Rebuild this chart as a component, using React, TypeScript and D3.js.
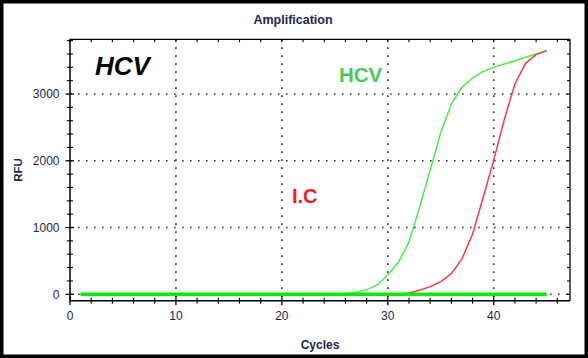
import React from "react";
import * as d3 from "d3";

const cycles = [1,2,3,4,5,6,7,8,9,10,11,12,13,14,15,16,17,18,19,20,21,22,23,24,25,26,27,28,29,30,31,32,33,34,35,36,37,38,39,40,41,42,43,44,45];
const hcvValues = [0,0,0,0,0,0,0,0,0,0,0,0,0,0,0,0,0,0,0,0,0,0,0,0,3,10,30,70,140,290,480,780,1300,1860,2420,2850,3100,3240,3340,3400,3450,3500,3550,3600,3650];
const icValues = [0,0,0,0,0,0,0,0,0,0,0,0,0,0,0,0,0,0,0,0,0,0,0,0,0,0,0,0,0,0,5,20,60,115,190,310,530,900,1450,2010,2620,3150,3460,3590,3650];
const negValues = [0,0,0,0,0,0,0,0,0,0,0,0,0,0,0,0,0,0,0,0,0,0,0,0,0,0,0,0,0,0,0,0,0,0,0,0,0,0,0,0,0,0,0,0,0];
const xMajorTicks = [0, 10, 20, 30, 40];
const xMinorTicks = [2,4,6,8,12,14,16,18,22,24,26,28,32,34,36,38,42,44,46];
const yMajorTicks = [0, 1000, 2000, 3000];
const yMinorTicks = [200,400,600,800,1200,1400,1600,1800,2200,2400,2600,2800,3200,3400,3600,3800];

const W = 588, H = 358;
const left = 70, right = 570, top = 39.3, bottom = 300.7;
const font = "'Liberation Sans', Arial, sans-serif";
const labelColor = "#1d2656";

export default function App() {
  const x = d3.scaleLinear().domain([0, 47.2]).range([left, right]);
  const y = d3.scaleLinear().domain([-96, 3820]).range([bottom, top]);
  const line = (vals: number[]) =>
    d3.line<number>().x((_, i) => x(cycles[i])).y((v) => y(v))(vals) || "";

  return (
    <svg width={W} height={H} style={{ position: "absolute", left: 0, top: 0, background: "#fff" }} fontFamily={font}>
      <rect x={0} y={0} width={W} height={H} fill="#fff" />
      {/* grid */}
      {xMajorTicks.filter((t) => t > 0).map((t) => (
        <line key={"gx" + t} x1={x(t)} x2={x(t)} y1={top} y2={bottom} stroke="#333" strokeWidth={1.6} strokeDasharray="1.6,6.4" />
      ))}
      {yMajorTicks.map((t) => (
        <line key={"gy" + t} x1={left} x2={right} y1={y(t)} y2={y(t)} stroke="#333" strokeWidth={1.6} strokeDasharray="1.6,6.4" />
      ))}
      {/* frame */}
      <line x1={left} x2={right} y1={top} y2={top} stroke="#000" strokeWidth={1.3} />
      <line x1={right} x2={right} y1={top} y2={bottom} stroke="#000" strokeWidth={1.3} />
      <line x1={left} x2={left} y1={top} y2={bottom + 1.5} stroke="#000" strokeWidth={1.5} />
      <line x1={left} x2={right} y1={bottom} y2={bottom} stroke="#000" strokeWidth={1.5} />
      {/* bottom ticks */}
      {xMajorTicks.map((t) => (
        <line key={"bx" + t} x1={x(t)} x2={x(t)} y1={bottom - 4.5} y2={bottom + 4.5} stroke="#000" strokeWidth={1.3} />
      ))}
      {xMinorTicks.map((t) => (
        <line key={"bmx" + t} x1={x(t)} x2={x(t)} y1={bottom - 3} y2={bottom + 3} stroke="#000" strokeWidth={1.1} />
      ))}
      {/* top ticks */}
      {xMajorTicks.concat(xMinorTicks).map((t) => (
        <line key={"tx" + t} x1={x(t)} x2={x(t)} y1={top} y2={top + 3} stroke="#000" strokeWidth={1.1} />
      ))}
      {/* left ticks */}
      {yMajorTicks.map((t) => (
        <line key={"ly" + t} x1={left - 4.5} x2={left + 4} y1={y(t)} y2={y(t)} stroke="#000" strokeWidth={1.3} />
      ))}
      {yMinorTicks.map((t) => (
        <line key={"lmy" + t} x1={left - 3} x2={left + 3} y1={y(t)} y2={y(t)} stroke="#000" strokeWidth={1.1} />
      ))}
      {/* right ticks */}
      {yMajorTicks.concat(yMinorTicks).map((t) => (
        <line key={"ry" + t} x1={right - 3} x2={right} y1={y(t)} y2={y(t)} stroke="#000" strokeWidth={1.1} />
      ))}
      {/* tick labels */}
      {xMajorTicks.map((t) => (
        <text key={"xl" + t} x={x(t)} y={319.5} textAnchor="middle" fontSize={12} fill={labelColor}>{t}</text>
      ))}
      {yMajorTicks.map((t) => (
        <text key={"yl" + t} x={59.5} y={y(t) + 4.3} textAnchor="end" fontSize={12} fill={labelColor}>{t}</text>
      ))}
      {/* series */}
      <path d={line(hcvValues)} fill="none" stroke="#44f044" strokeWidth={1.5} />
      <path d={line(icValues)} fill="none" stroke="#ff3b3b" strokeWidth={1.5} />
      <path d={line(negValues)} fill="none" stroke="#00ee00" strokeWidth={3.5} />
      {/* titles */}
      <text x={293} y={24} textAnchor="middle" fontSize={12.5} fontWeight="bold" fill={labelColor}>Amplification</text>
      <text x={(left + right) / 2} y={348.5} textAnchor="middle" fontSize={12} fontWeight="bold" fill={labelColor}>Cycles</text>
      <text transform={`translate(21.5,${(top + bottom) / 2}) rotate(-90)`} textAnchor="middle" fontSize={11.5} fontWeight="bold" fill={labelColor}>RFU</text>
      <text x={95} y={75} fontSize={26} fontWeight="bold" fontStyle="italic" fill="#000">HCV</text>
      <text x={339} y={81.5} fontSize={20.5} fontWeight="bold" fill="#44cc55">HCV</text>
      <text x={292} y={202.5} fontSize={20} fontWeight="bold" fill="#ff1a1a">I.C</text>
      {/* outer frame */}
      <rect x={1.75} y={1.75} width={W - 3.5} height={H - 3.5} fill="none" stroke="#000" strokeWidth={3.5} />
    </svg>
  );
}
